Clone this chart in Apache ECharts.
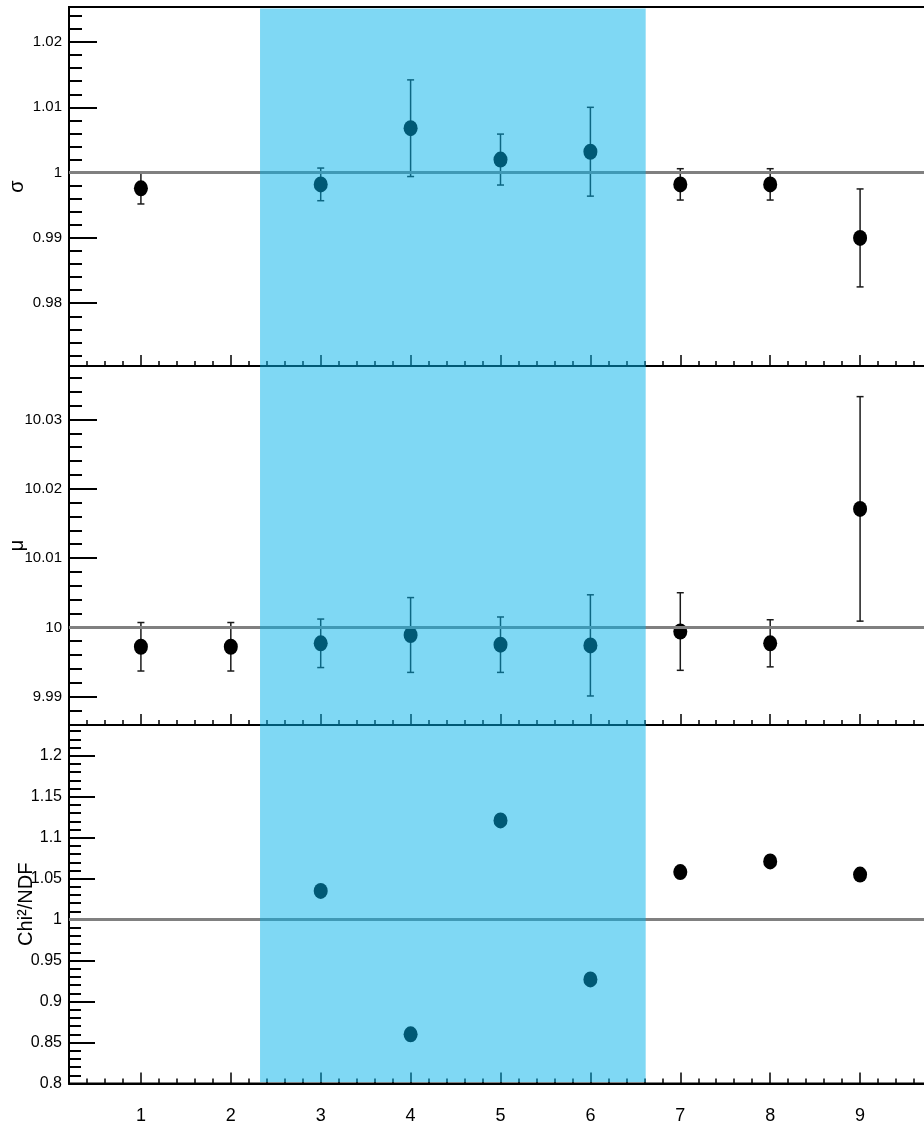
<!DOCTYPE html>
<html>
<head>
<meta charset="utf-8">
<title>fit summary</title>
<script src="https://cdn.jsdelivr.net/npm/echarts@6/dist/echarts.min.js"></script>
<style>
    html, body { margin: 0; padding: 0; background: #fff; }
    #main { width: 924px; height: 1124px; }
</style>
</head>
<body>
<div id="main"></div>
<script>
    // run numbers on the x axis
    var runs = [1, 2, 3, 4, 5, 6, 7, 8, 9];
    var runRange = [0.2, 9.8];

    // sigma panel (no fit for run 2)
    var sigmaVal = [0.9976, null, 0.9982, 1.0068, 1.0020, 1.0032, 0.9982, 0.9982, 0.9900];
    var sigmaErr = [0.0024, null, 0.0025, 0.0074, 0.0039, 0.0068, 0.0024, 0.0024, 0.0075];
    var sigmaRange = [0.97039, 1.02536];

    // mu panel
    var muVal = [9.9972, 9.9972, 9.9977, 9.9989, 9.9975, 9.9974, 9.9994, 9.9977, 10.0171];
    var muErr = [0.0035, 0.0035, 0.0035, 0.0054, 0.0040, 0.0073, 0.0056, 0.0034, 0.0162];
    var muRange = [9.98591, 10.03772];

    // chi2/ndf panel (runs 1, 2 missing)
    var chiVal = [null, null, 1.035, 0.860, 1.121, 0.927, 1.058, 1.071, 1.055];
    var chiRange = [0.8, 1.2375];

    // expected values (grey lines)
    var refLines = [1, 10, 1];

    // highlighted run range
    var bandRange = [2.325, 6.615];

    var font = "'Liberation Sans', Arial, Helvetica, sans-serif";

    function points(vals) {
        var out = [];
        for (var i = 0; i < runs.length; i++) {
            if (vals[i] != null) out.push([runs[i], vals[i]]);
        }
        return out;
    }

    function errBars(vals, errs) {
        var out = [];
        for (var i = 0; i < runs.length; i++) {
            if (vals[i] != null) out.push([runs[i], vals[i] - errs[i], vals[i] + errs[i]]);
        }
        return out;
    }

    function renderErr(params, api) {
        var top = api.coord([api.value(0), api.value(2)]);
        var bot = api.coord([api.value(0), api.value(1)]);
        var hw = 3.5;
        var st = { stroke: '#1a1a1a', lineWidth: 1.5 };
        return {
            type: 'group',
            children: [
                { type: 'line', shape: { x1: top[0], y1: top[1], x2: bot[0], y2: bot[1] }, style: st },
                { type: 'line', shape: { x1: top[0] - hw, y1: top[1], x2: top[0] + hw, y2: top[1] }, style: st },
                { type: 'line', shape: { x1: bot[0] - hw, y1: bot[1], x2: bot[0] + hw, y2: bot[1] }, style: st }
            ]
        };
    }

    function renderBand(params, api) {
        var a = api.coord([api.value(0), 1]);
        var b = api.coord([api.value(1), 0]);
        return {
            type: 'rect',
            shape: { x: a[0], y: a[1], width: b[0] - a[0], height: b[1] - a[1] },
            style: { fill: 'rgba(0,177,233,0.5)' }
        };
    }

    var grids = [
        { left: 69, right: -8, top: 7, height: 359 },
        { left: 69, right: -8, top: 366, height: 359 },
        { left: 69, right: -8, top: 725, height: 358.5 },
        { left: 69, right: -8, top: 8.5, height: 1073.5 }
    ];
    grids.forEach(function(g, i) {
        g.containLabel = false;
        g.outerBoundsMode = 'none';
        g.show = i < 3;
        g.borderColor = '#000';
        g.borderWidth = 2;
    });

    function xAxisFor(idx, labels) {
        return {
            type: 'value',
            gridIndex: idx,
            min: runRange[0],
            max: runRange[1],
            splitNumber: 10,
            axisLine: { show: true, onZero: false, lineStyle: { color: '#000', width: 2 } },
            axisTick: { show: true, inside: true, length: 11, lineStyle: { color: '#000', width: 1.5 } },
            minorTick: { show: true, splitNumber: 5, length: 5, lineStyle: { color: '#000', width: 1.5 } },
            splitLine: { show: false },
            axisLabel: {
                show: labels,
                showMinLabel: false,
                showMaxLabel: false,
                margin: 24,
                color: '#000',
                fontSize: 18,
                fontFamily: font
            }
        };
    }

    function yAxisFor(idx, range, name, opts) {
        var ax = {
            type: 'value',
            gridIndex: idx,
            min: range[0],
            max: range[1],
            name: name,
            nameLocation: 'middle',
            nameGap: opts.nameGap,
            nameMoveOverlap: false,
            nameTextStyle: { color: '#000', fontSize: 20, fontFamily: font },
            axisLine: { show: true, onZero: false, lineStyle: { color: '#000', width: 2 } },
            axisTick: { show: true, inside: true, length: opts.major, lineStyle: { color: '#000', width: 2 } },
            minorTick: { show: true, splitNumber: 5, length: opts.minor, lineStyle: { color: '#000', width: 2 } },
            splitLine: { show: false },
            axisLabel: {
                showMinLabel: opts.showMin,
                showMaxLabel: false,
                margin: 7,
                color: '#000',
                fontSize: opts.fontSize,
                fontFamily: font
            }
        };
        if (opts.interval) ax.interval = opts.interval;
        else ax.splitNumber = 5;
        return ax;
    }

    function refLine(v) {
        return {
            silent: true,
            symbol: 'none',
            label: { show: false },
            lineStyle: { color: '#808080', width: 3, type: 'solid', opacity: 1 },
            data: [{ yAxis: v }]
        };
    }

    var dotStyle = { color: '#000', opacity: 1 };

    var myChart = echarts.init(document.getElementById('main'));
    var option = {
        animation: false,
        backgroundColor: '#fff',
        grid: grids,
        xAxis: [
            xAxisFor(0, false),
            xAxisFor(1, false),
            xAxisFor(2, true),
            { type: 'value', gridIndex: 3, min: runRange[0], max: runRange[1], show: false }
        ],
        yAxis: [
            yAxisFor(0, sigmaRange, 'σ', { nameGap: 42, major: 28, minor: 13, fontSize: 15, showMin: false }),
            yAxisFor(1, muRange, 'μ', { nameGap: 42, major: 28, minor: 13, fontSize: 15, showMin: false }),
            yAxisFor(2, chiRange, 'Chi²/NDF', { nameGap: 33, major: 26, minor: 12, fontSize: 16, showMin: true, interval: 0.05 }),
            { type: 'value', gridIndex: 3, min: 0, max: 1, show: false }
        ],
        series: [
            {
                type: 'custom', xAxisIndex: 0, yAxisIndex: 0, z: 3,
                renderItem: renderErr, data: errBars(sigmaVal, sigmaErr)
            },
            {
                type: 'scatter', xAxisIndex: 0, yAxisIndex: 0, z: 4,
                symbol: 'circle', symbolSize: [14, 16], itemStyle: dotStyle,
                data: points(sigmaVal), markLine: refLine(refLines[0])
            },
            {
                type: 'custom', xAxisIndex: 1, yAxisIndex: 1, z: 3,
                renderItem: renderErr, data: errBars(muVal, muErr)
            },
            {
                type: 'scatter', xAxisIndex: 1, yAxisIndex: 1, z: 4,
                symbol: 'circle', symbolSize: [14, 16], itemStyle: dotStyle,
                data: points(muVal), markLine: refLine(refLines[1])
            },
            {
                type: 'scatter', xAxisIndex: 2, yAxisIndex: 2, z: 4,
                symbol: 'circle', symbolSize: [14, 16], itemStyle: dotStyle,
                data: points(chiVal), markLine: refLine(refLines[2])
            },
            {
                type: 'custom', xAxisIndex: 3, yAxisIndex: 3, z: 20, silent: true,
                renderItem: renderBand, data: [bandRange]
            }
        ]
    };
    myChart.setOption(option);
</script>
</body>
</html>
